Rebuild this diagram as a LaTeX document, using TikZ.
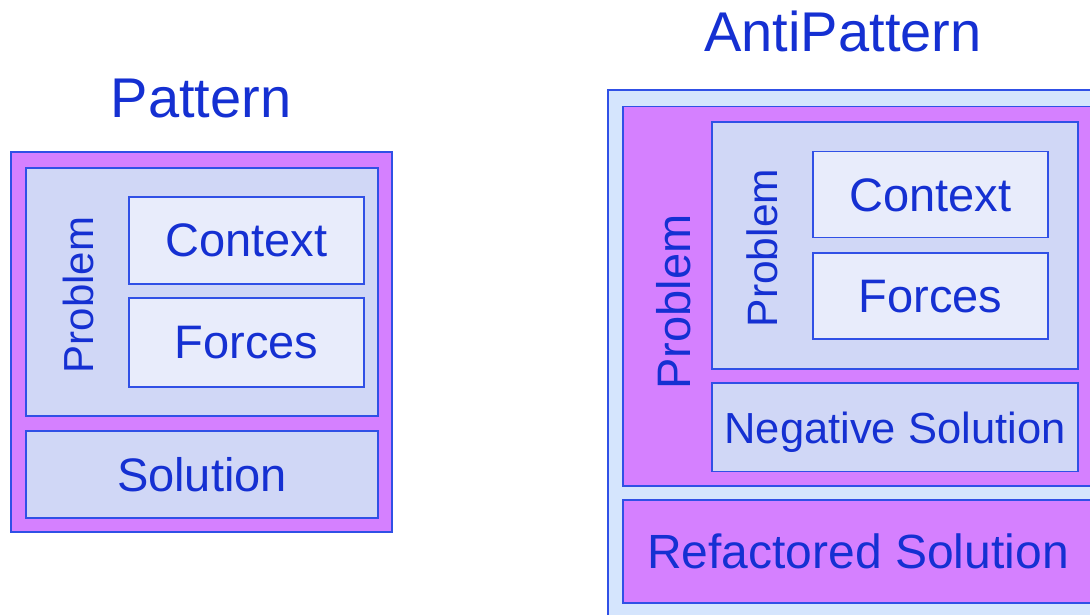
\documentclass[tikz,border=0pt]{standalone}
\usepackage{fontspec}
\setmainfont{Liberation Sans}
\usetikzlibrary{positioning}

\definecolor{lineblue}{HTML}{3050E6}
\definecolor{textblue}{HTML}{1530D2}
\definecolor{magentafill}{HTML}{D580FF}
\definecolor{lavfill}{HTML}{D0D7F6}
\definecolor{palefill}{HTML}{E8ECFB}
\definecolor{skyfill}{HTML}{D5E5FD}

\tikzset{
    part/.style={draw=lineblue, line width=1.6pt, inner sep=0pt,
        text=textblue, text depth=0pt, align=center},
    title/.style={text=textblue, inner sep=0pt, anchor=base,
        font=\fontsize{56}{60}\selectfont}
}

\begin{document}
\begin{tikzpicture}[x=1pt, y=-1pt]
    \useasboundingbox (0, 0) rectangle (1090, 614);
    \clip (0, 0) rectangle (1090, 614);

    % pattern
    \node [title] (pattitle) at (201, 117) {Pattern};
    \node [part, fill=magentafill, minimum width=381, minimum height=380]
        (pat) at (201.5, 342) {};
    \node [part, fill=lavfill, minimum width=352, minimum height=248]
        (patprob) at (202, 292) {};
    \node [part, fill=palefill, minimum width=235, minimum height=87,
        font=\fontsize{47}{50}\selectfont] (patctx) at (246.5, 240.5) {Context};
    \node [part, fill=palefill, minimum width=235, minimum height=89,
        font=\fontsize{47}{50}\selectfont] (patfrc) at (246.5, 342.5) {Forces};
    \node [part, draw=none, rotate=90, font=\fontsize{42}{46}\selectfont]
        (patproblabel) at (78, 295) {Problem};
    \node [part, fill=lavfill, minimum width=352, minimum height=87,
        font=\fontsize{47}{50}\selectfont] (patsol) at (202, 474.5) {Solution};

    % antipattern
    \node [title] (aptitle) at (843, 51) {AntiPattern};
    \node [part, fill=skyfill, minimum width=502, minimum height=540]
        (ap) at (859, 360) {};
    \node [part, fill=magentafill, minimum width=477, minimum height=379.5]
        (approb) at (861.5, 296.25) {};
    \node [part, fill=lavfill, minimum width=366, minimum height=247]
        (apin) at (895, 245.5) {};
    \node [part, fill=palefill, minimum width=235, minimum height=86,
        font=\fontsize{47}{50}\selectfont] (apctx) at (930.5, 194.6) {Context};
    \node [part, fill=palefill, minimum width=235, minimum height=86.5,
        font=\fontsize{47}{50}\selectfont] (apfrc) at (930.5, 296) {Forces};
    \node [part, draw=none, rotate=90, font=\fontsize{42.5}{46}\selectfont]
        (apinlabel) at (762, 248) {Problem};
    \node [part, draw=none, rotate=90, font=\fontsize{47}{50}\selectfont]
        (approblabel) at (673, 302) {Problem};
    \node [part, fill=lavfill, minimum width=366, minimum height=88.7,
        font=\fontsize{43.5}{48}\selectfont] (apneg) at (895, 427.3) {Negative Solution};
    \node [part, fill=magentafill, minimum width=470, minimum height=103,
        font=\fontsize{48}{52}\selectfont] (apref) at (858, 551.2) {Refactored Solution};
\end{tikzpicture}
\end{document}
